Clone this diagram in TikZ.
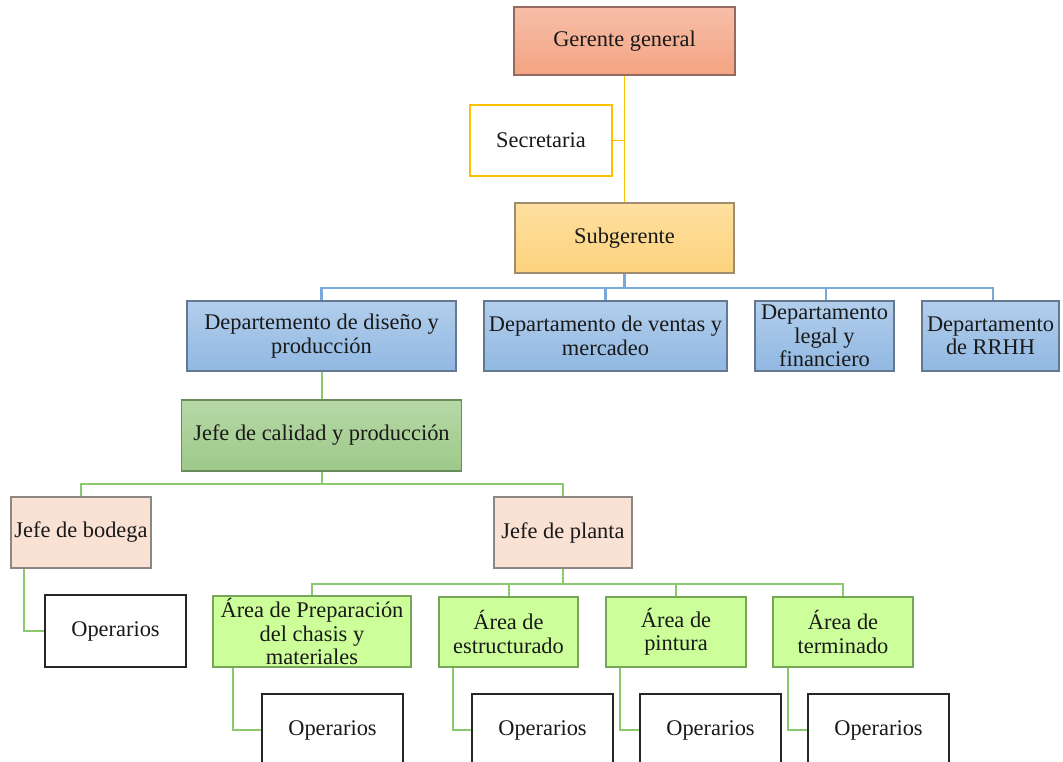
\documentclass[tikz,border=0pt]{standalone}
\usepackage{fontspec}
\setmainfont{Liberation Serif}
\begin{document}
\begin{tikzpicture}[x=0.75pt,y=-0.75pt,
  every node/.style={font=\fontsize{16.8}{17.5}\selectfont, text=black!90, align=center, inner sep=0pt},
  bx/.style args={#1/#2}{rectangle, minimum width=#1*0.75pt, minimum height=#2*0.75pt},
  gg/.style={draw={rgb,255:red,150;green,105;blue,95}, line width=0.8pt, top color={rgb,255:red,246;green,190;blue,168}, bottom color={rgb,255:red,244;green,164;blue,130}},
  sub/.style={draw={rgb,255:red,160;green,140;blue,110}, line width=0.8pt, top color={rgb,255:red,255;green,224;blue,160}, bottom color={rgb,255:red,252;green,210;blue,125}},
  sec/.style={draw={rgb,255:red,255;green,192;blue,0}, line width=1.5pt, fill=white},
  dep/.style={draw={rgb,255:red,100;green,120;blue,145}, line width=0.8pt, top color={rgb,255:red,178;green,206;blue,236}, bottom color={rgb,255:red,145;green,184;blue,226}},
  jcal/.style={draw={rgb,255:red,105;green,140;blue,90}, line width=0.8pt, top color={rgb,255:red,182;green,216;blue,166}, bottom color={rgb,255:red,158;green,201;blue,138}},
  jefe/.style={draw={rgb,255:red,140;green,135;blue,130}, line width=0.8pt, fill={rgb,255:red,249;green,225;blue,211}},
  area/.style={draw={rgb,255:red,120;green,165;blue,90}, line width=0.8pt, fill={rgb,255:red,204;green,255;blue,153}},
  ops/.style={draw=black!85, line width=1.6pt, fill=white},
  yline/.style={draw={rgb,255:red,255;green,192;blue,0}, line width=1.4pt},
  bline/.style={draw={rgb,255:red,120;green,168;blue,220}, line width=1.6pt},
  gline/.style={draw={rgb,255:red,140;green,200;blue,110}, line width=1.5pt}
]
\useasboundingbox (0,0) rectangle (1063,762);
\clip (0,0) rectangle (1063,762);

% top
\node[bx=221/68, gg] (gg) at (624.5,41) {Gerente general};
\node[bx=142/71, sec] (sec) at (541,140.5) {Secretaria};
\node[bx=219/70, sub] (sub) at (624.5,238) {Subgerente};

% departments
\node[bx=269/70, dep] (d1) at (321.5,336) {Departemento de diseño y\\producción};
\node[bx=243/70, dep] (d2) at (605.5,336) {Departamento de ventas y\\mercadeo};
\node[bx=139/70, dep] (d3) at (824.5,336) {Departamento\\legal y\\financiero};
\node[bx=137/70, dep] (d4) at (990.5,336) {Departamento\\de RRHH};

\node[bx=280/71, jcal] (jc) at (321.5,435.5) {Jefe de calidad y producción};

\node[bx=140/71, jefe] (jb) at (81,532.5) {Jefe de bodega};
\node[bx=138/71, jefe] (jp) at (563,532.5) {Jefe de planta};

\node[bx=198/71, area] (a1) at (312,631.5) {Área de Preparación\\del chasis y\\materiales};
\node[bx=139/70, area] (a2) at (508.5,632) {Área de\\estructurado};
\node[bx=140/70, area] (a3) at (676,632) {Área de\\pintura};
\node[bx=140/70, area] (a4) at (843,632) {Área de\\terminado};

\node[bx=141/72, ops] (o0) at (115.5,631) {Operarios};
\node[bx=141/72, ops] (o1) at (332.5,730) {Operarios};
\node[bx=141/72, ops] (o2) at (542.5,730) {Operarios};
\node[bx=141/72, ops] (o3) at (710.5,730) {Operarios};
\node[bx=141/72, ops] (o4) at (878.5,730) {Operarios};

% bus coordinates
\coordinate (busB) at (0,288);
\coordinate (busG1) at (0,484);
\coordinate (busG2) at (0,584);

% yellow connectors
\draw[yline] (gg.south) -- (sub.north);
\draw[yline] (sec.east) -- (sec.east -| gg.south);

% blue connectors
\draw[bline] (sub.south) -- (sub.south |- busB) -| (d1.north);
\draw[bline] (sub.south |- busB) -| (d2.north);
\draw[bline] (sub.south |- busB) -| ([xshift=1.1pt]d3.north);
\draw[bline] (sub.south |- busB) -| ([xshift=1.9pt]d4.north);

% green connectors
\draw[gline] (d1.south) -- (jc.north);
\draw[gline] (jc.south) -- (jc.south |- busG1) -| (jb.north);
\draw[gline] (jc.south |- busG1) -| (jp.north);
\draw[gline] (jp.south) -- (jp.south |- busG2) -| (a1.north);
\draw[gline] (jp.south |- busG2) -| (a2.north);
\draw[gline] (jp.south |- busG2) -| (a3.north);
\draw[gline] (jp.south |- busG2) -| (a4.north);

\draw[gline] ([xshift=14*0.75pt]jb.south west) |- (o0.west);
\draw[gline] ([xshift=21*0.75pt]a1.south west) |- (o1.west);
\draw[gline] ([xshift=15*0.75pt]a2.south west) |- (o2.west);
\draw[gline] ([xshift=15*0.75pt]a3.south west) |- (o3.west);
\draw[gline] ([xshift=16*0.75pt]a4.south west) |- (o4.west);
\end{tikzpicture}
\end{document}
